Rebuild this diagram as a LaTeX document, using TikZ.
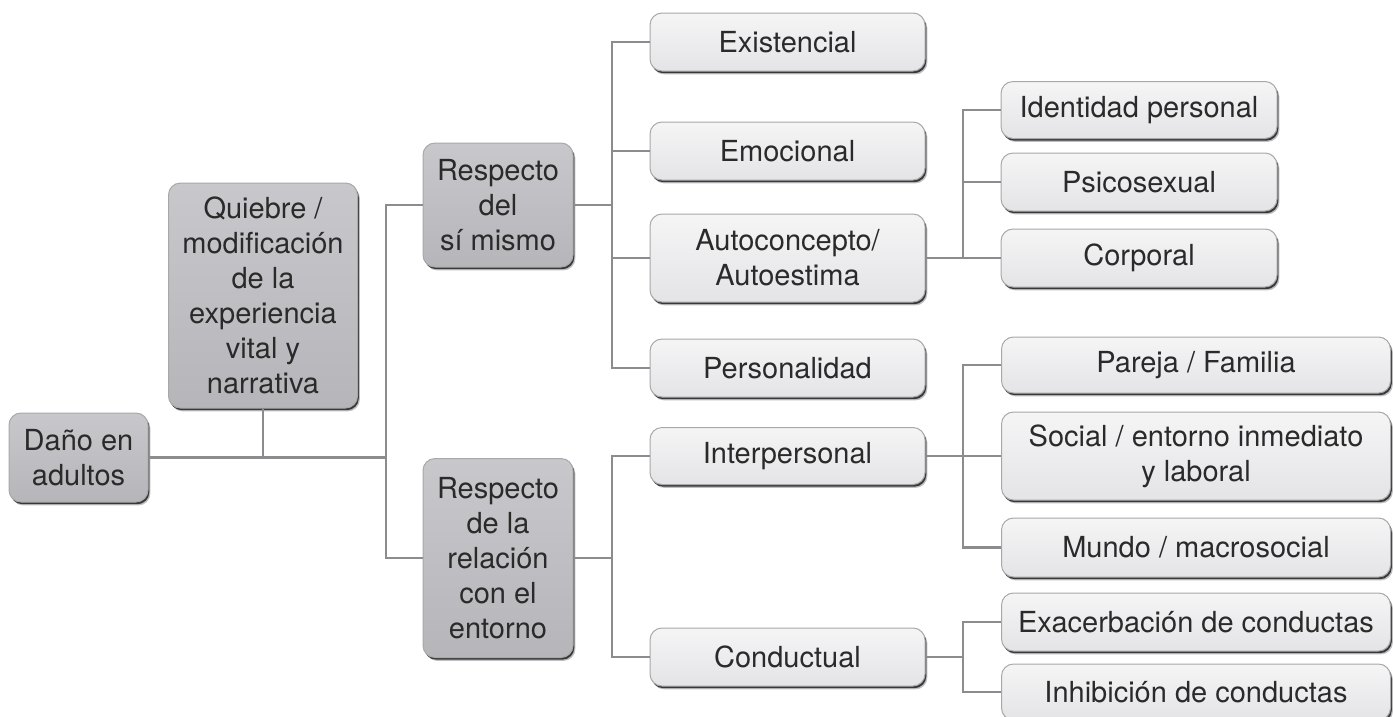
\documentclass[tikz,border=0pt]{standalone}
\usepackage{fontspec}
\setmainfont{TeX Gyre Heros}
\usetikzlibrary{shadows}
\definecolor{conncol}{HTML}{8C8C8E}
\definecolor{txtcol}{HTML}{2A2A2A}
\definecolor{darktop}{HTML}{C8C8CC}
\definecolor{darkbot}{HTML}{B6B6BA}
\definecolor{lighttop}{HTML}{F5F5F6}
\definecolor{lightbot}{HTML}{E4E4E6}
\definecolor{rimcol}{HTML}{A8A8AA}
\tikzset{
  boxbase/.style={rounded corners=12pt, draw=rimcol, line width=1pt,
    align=center, text=txtcol, inner sep=0pt,
    font=\fontsize{29}{35}\selectfont,
    general shadow={shadow xshift=2.4pt, shadow yshift=-3.4pt, fill=black, opacity=0.25},
    drop shadow={shadow xshift=1.3pt, shadow yshift=-2.2pt, fill=black!78, opacity=1}},
  darkbox/.style={boxbase, top color=darktop, bottom color=darkbot},
  lightbox/.style={boxbase, top color=lighttop, bottom color=lightbot},
  conn/.style={draw=conncol, line width=2.6pt},
}
\begin{document}
\begin{tikzpicture}[x=1pt,y=-1pt]
\useasboundingbox (0,0) rectangle (1393,716);

% first two levels
\node[darkbox, minimum width=139pt, minimum height=89pt] (dano) at (78.5,457.5) {Daño en\\adultos};
\node[darkbox, minimum width=189pt, minimum height=225pt] (quiebre) at (263,295.5)
  {Quiebre /\\modificación\\de la\\experiencia\\vital y\\narrativa};
\node[darkbox, minimum width=150pt, minimum height=124pt] (rsm) at (498,205) {Respecto\\del\\sí mismo};
\node[darkbox, minimum width=150pt, minimum height=199pt] (rrel) at (498,558)
  {Respecto\\de la\\relación\\con el\\entorno};

% third level
\node[lightbox, minimum width=275pt, minimum height=58pt] (exis) at (787.5,42) {Existencial};
\node[lightbox, minimum width=275pt, minimum height=58pt] (emoc) at (787.5,151) {Emocional};
\node[lightbox, minimum width=275pt, minimum height=88pt] (auto) at (787.5,258) {Autoconcepto/\\Autoestima};
\node[lightbox, minimum width=275pt, minimum height=58pt] (pers) at (787.5,368) {Personalidad};
\node[lightbox, minimum width=275pt, minimum height=57pt] (inter) at (787.5,456) {Interpersonal};
\node[lightbox, minimum width=275pt, minimum height=58pt] (cond) at (787.5,657) {Conductual};

% fourth level
\node[lightbox, minimum width=276pt, minimum height=57pt] (iden) at (1139,110) {Identidad personal};
\node[lightbox, minimum width=276pt, minimum height=58pt] (psico) at (1139,182) {Psicosexual};
\node[lightbox, minimum width=276pt, minimum height=58pt] (corp) at (1139,258) {Corporal};
\node[lightbox, minimum width=389pt, minimum height=56pt] (pareja) at (1196,365) {Pareja / Familia};
\node[lightbox, minimum width=389pt, minimum height=88pt] (social) at (1196,456) {Social / entorno inmediato\\y laboral};
\node[lightbox, minimum width=389pt, minimum height=59pt] (mundo) at (1196,547.5) {Mundo / macrosocial};
\node[lightbox, minimum width=389pt, minimum height=58pt] (exac) at (1196,622) {Exacerbación de conductas};
\node[lightbox, minimum width=389pt, minimum height=56pt] (inhib) at (1196,692) {Inhibición de conductas};

% junction columns
\coordinate (j1) at (386,0);
\coordinate (j2) at (612,0);
\coordinate (j3) at (963,0);

% connectors
\draw[conn] (quiebre.south) -- (quiebre.south |- dano.east);
\draw[conn] (dano.east) -- (dano.east -| j1);
\draw[conn] (rsm.west) -| (j1 |- rrel.west) -- (rrel.west);

\draw[conn] (rsm.east) -- (rsm.east -| j2);
\draw[conn] (exis.west) -| (j2 |- pers.west) -- (pers.west);
\draw[conn] (emoc.west) -- (emoc.west -| j2);
\draw[conn] (auto.west) -- (auto.west -| j2);

\draw[conn] (rrel.east) -- (rrel.east -| j2);
\draw[conn] (inter.west) -| (j2 |- cond.west) -- (cond.west);

\draw[conn] (iden.west) -| (j3 |- corp.west) -- (corp.west);
\draw[conn] (psico.west) -- (psico.west -| j3);
\draw[conn] (auto.east) -- (corp.west);

\draw[conn] (pareja.west) -| (j3 |- mundo.west) -- (mundo.west);
\draw[conn] (inter.east) -- (social.west);

\draw[conn] (exac.west) -| (j3 |- inhib.west) -- (inhib.west);
\draw[conn] (cond.east) -- (cond.east -| j3);
\end{tikzpicture}
\end{document}
